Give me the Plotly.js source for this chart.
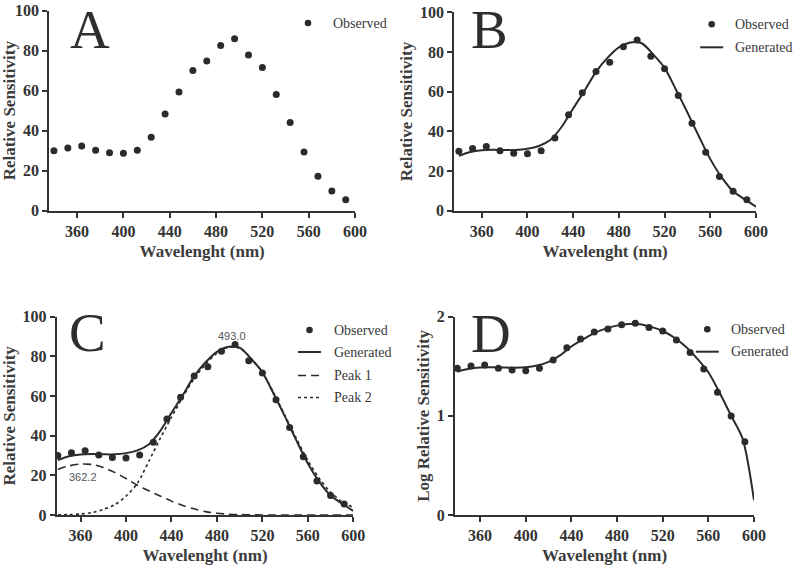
<!DOCTYPE html>
<html>
<head>
<meta charset="utf-8">
<script src="https://cdn.plot.ly/plotly-3.0.1.min.js"></script>
<style>
  html, body { margin: 0; padding: 0; background: #ffffff; }
  #chart { width: 795px; height: 565px; }
</style>
</head>
<body>
<div id="chart"></div>
<script>
// Measured spectral sensitivity (nm, relative %)
const obsWavelength = [340, 352, 364, 376, 388, 400, 412, 424, 436, 448, 460,
                       472, 484, 496, 508, 520, 532, 544, 556, 568, 580, 592];
const observed = [30.0, 31.4, 32.4, 30.2, 29.0, 28.7, 30.2, 36.7, 48.4, 59.4, 70.1,
                  74.8, 82.6, 86.0, 77.8, 71.6, 58.1, 44.1, 29.4, 17.2, 9.8, 5.5];
const logObserved = [1.479, 1.503, 1.513, 1.479, 1.462, 1.455, 1.479, 1.563, 1.687, 1.775, 1.845,
                     1.876, 1.919, 1.933, 1.892, 1.855, 1.765, 1.640, 1.472, 1.237, 0.998, 0.739];

// Fitted template curves sampled every 10 nm
const fitWavelength = [340, 350, 360, 370, 380, 390, 400, 410, 420, 430, 440, 450, 460, 470,
                       480, 490, 500, 510, 520, 530, 540, 550, 560, 570, 580, 590, 600];
const generated = [27.7, 29.6, 30.5, 30.7, 30.6, 30.6, 31.2, 32.6, 35.6, 42.3, 51.5, 60.5, 70.0, 77.0,
                   82.3, 84.8, 84.4, 78.8, 72.0, 61.0, 49.5, 37.5, 26.0, 16.8, 9.8, 5.8, 2.0];
const peak1 = [23.0, 24.8, 25.7, 25.5, 24.0, 21.5, 18.4, 15.0, 12.2, 9.6, 7.0, 4.8, 3.1, 1.7,
               0.9, 0.4, 0.2, 0.1, 0, 0, 0, 0, 0, 0, 0, 0, 0];
const peak2 = [0.1, 0.2, 0.5, 1.2, 2.8, 5.2, 9.5, 16.0, 27.0, 38.5, 49.3, 59.5, 68.8, 76.0,
               81.6, 84.6, 84.0, 79.0, 72.0, 61.5, 50.0, 38.5, 27.5, 18.5, 11.5, 6.8, 3.8];
const logGenerated = [1.445, 1.474, 1.488, 1.490, 1.487, 1.485, 1.490, 1.508, 1.545, 1.610, 1.700, 1.770, 1.835, 1.880,
                      1.910, 1.926, 1.925, 1.897, 1.856, 1.790, 1.700, 1.580, 1.440, 1.230, 1.000, 0.770, 0.150];

// Fitted peak positions (nm) and the height at which each label sits
const peakLambda = [362.2, 493.0];
const peakLabelY = [19.3, 90.2];

const panelLetters = ['A', 'B', 'C', 'D'];
const seriesNames = ['Observed', 'Generated', 'Peak 1', 'Peak 2'];
const xTicks = [360, 400, 440, 480, 520, 560, 600];
const yTicks = [0, 20, 40, 60, 80, 100];
const logTicks = [0, 1, 2];

const W = 795, H = 565;
const ink = '#333333';
const serif = 'Liberation Serif, Times New Roman, serif';
const px = v => v / W;
const py = v => 1 - v / H;

const dotStyle = { color: '#2b2b2b', size: 7 };
const lineBase = { color: '#2b2b2b', width: 2, shape: 'spline', smoothing: 0.8 };

const traces = [
  // A
  { x: obsWavelength, y: observed, xaxis: 'x', yaxis: 'y', mode: 'markers', marker: dotStyle, name: seriesNames[0] },
  // B
  { x: fitWavelength, y: generated, xaxis: 'x2', yaxis: 'y2', mode: 'lines', line: lineBase, name: seriesNames[1] },
  { x: obsWavelength, y: observed, xaxis: 'x2', yaxis: 'y2', mode: 'markers', marker: dotStyle, name: seriesNames[0] },
  // C
  { x: fitWavelength, y: peak1, xaxis: 'x3', yaxis: 'y3', mode: 'lines', line: Object.assign({}, lineBase, { width: 1.6, dash: '8px,5px' }), name: seriesNames[2] },
  { x: fitWavelength, y: peak2, xaxis: 'x3', yaxis: 'y3', mode: 'lines', line: Object.assign({}, lineBase, { width: 1.6, dash: '3px,3px' }), name: seriesNames[3] },
  { x: fitWavelength, y: generated, xaxis: 'x3', yaxis: 'y3', mode: 'lines', line: lineBase, name: seriesNames[1] },
  { x: obsWavelength, y: observed, xaxis: 'x3', yaxis: 'y3', mode: 'markers', marker: dotStyle, name: seriesNames[0] },
  // D
  { x: fitWavelength, y: logGenerated, xaxis: 'x4', yaxis: 'y4', mode: 'lines', line: lineBase, name: seriesNames[1] },
  { x: obsWavelength, y: logObserved, xaxis: 'x4', yaxis: 'y4', mode: 'markers', marker: dotStyle, name: seriesNames[0] }
];

const tickFont = { family: serif, size: 16, color: ink, weight: 'bold' };
const titleFont = { family: serif, size: 17, color: '#3c3c3c', weight: 'bold' };

function xAxis(domain, start, anchor) {
  return {
    domain: domain, range: [start, 600], anchor: anchor,
    tickmode: 'array', tickvals: xTicks,
    showline: true, linecolor: ink, linewidth: 2,
    ticks: 'outside', ticklen: 5, tickwidth: 2, tickcolor: ink,
    showgrid: false, zeroline: false, tickfont: tickFont,
    title: { text: 'Wavelenght (nm)', font: titleFont, standoff: 6 }
  };
}
function yAxis(domain, range, ticks, label, anchor) {
  return {
    domain: domain, range: range, anchor: anchor,
    tickmode: 'array', tickvals: ticks,
    showline: true, linecolor: ink, linewidth: 2,
    ticks: 'outside', ticklen: 5, tickwidth: 2, tickcolor: ink,
    showgrid: false, zeroline: false, tickfont: tickFont,
    title: { text: label, font: titleFont, standoff: 3 }
  };
}

// Panel frames in pixels: [left, right, top, bottom]
const frames = [
  [49.3, 355, 10.7, 210.7],
  [454.3, 756, 12.3, 210.7],
  [56.7, 353.3, 316.7, 515],
  [455, 754, 316.7, 515]
];
const xStarts = [336, 336, 339, 338];
const dom = f => ({ x: [px(f[0]), px(f[1])], y: [py(f[3]), py(f[2])] });

const layout = {
  width: W, height: H,
  margin: { l: 0, r: 0, t: 0, b: 0 },
  paper_bgcolor: '#ffffff', plot_bgcolor: '#ffffff',
  showlegend: false,
  font: { family: serif, color: ink },
  xaxis: xAxis(dom(frames[0]).x, xStarts[0], 'y'),
  yaxis: yAxis(dom(frames[0]).y, [0, 100], yTicks, 'Relative Sensitivity', 'x'),
  xaxis2: xAxis(dom(frames[1]).x, xStarts[1], 'y2'),
  yaxis2: yAxis(dom(frames[1]).y, [0, 100], yTicks, 'Relative Sensitivity', 'x2'),
  xaxis3: xAxis(dom(frames[2]).x, xStarts[2], 'y3'),
  yaxis3: yAxis(dom(frames[2]).y, [0, 100], yTicks, 'Relative Sensitivity', 'x3'),
  xaxis4: xAxis(dom(frames[3]).x, xStarts[3], 'y4'),
  yaxis4: yAxis(dom(frames[3]).y, [0, 2], logTicks, 'Log Relative Sensitivity', 'x4'),
  annotations: [],
  shapes: []
};

// Panel letters (box centre in px)
const letterPos = [[90, 29.5], [489, 29.5], [87, 331.5], [490.5, 332.5]];
panelLetters.forEach((t, i) => {
  layout.annotations.push({
    text: t, xref: 'paper', yref: 'paper', x: px(letterPos[i][0]), y: py(letterPos[i][1]),
    xanchor: 'center', yanchor: 'middle', valign: 'middle', height: 46, showarrow: false,
    font: { family: serif, size: 55, color: '#2e2e2e' }
  });
});

// Peak labels on panel C
peakLambda.forEach((lam, i) => {
  layout.annotations.push({
    text: lam.toFixed(1), xref: 'x3', yref: 'y3', x: lam, y: peakLabelY[i],
    xanchor: 'center', yanchor: 'middle', showarrow: false,
    font: { family: 'Liberation Sans, Arial, sans-serif', size: 11, color: '#555555' }
  });
});

// Key boxes: symbol x-centre, text left edge, row y positions (px)
const keys = [
  { sym: 308, text: 330.7, rows: [23], n: 1 },
  { sym: 711.7, text: 733, rows: [24.3, 47.3], n: 2 },
  { sym: 309.5, text: 331.5, rows: [330, 352, 375.5, 397.5], n: 4 },
  { sym: 707.3, text: 729.3, rows: [329.3, 351.7], n: 2 }
];
const keyDash = [null, 'solid', '8px,5px', '3px,3px'];
keys.forEach(k => {
  for (let r = 0; r < k.n; r++) {
    const yy = k.rows[r];
    if (r === 0) {
      layout.shapes.push({
        type: 'circle', xref: 'paper', yref: 'paper',
        x0: px(k.sym - 3.3), x1: px(k.sym + 3.3), y0: py(yy + 3.3), y1: py(yy - 3.3),
        fillcolor: '#2b2b2b', line: { width: 0 }
      });
    } else {
      layout.shapes.push({
        type: 'line', xref: 'paper', yref: 'paper',
        x0: px(k.sym - 11.5), x1: px(k.sym + 11.5), y0: py(yy), y1: py(yy),
        line: { color: '#2b2b2b', width: r === 1 ? 2 : 1.6, dash: keyDash[r] }
      });
    }
    layout.annotations.push({
      text: seriesNames[r], xref: 'paper', yref: 'paper', x: px(k.text), y: py(yy),
      xanchor: 'left', yanchor: 'middle', showarrow: false,
      font: { family: serif, size: 14, color: '#3a3a3a' }
    });
  }
});

Plotly.newPlot('chart', traces, layout, { staticPlot: true, displayModeBar: false });
</script>
</body>
</html>
